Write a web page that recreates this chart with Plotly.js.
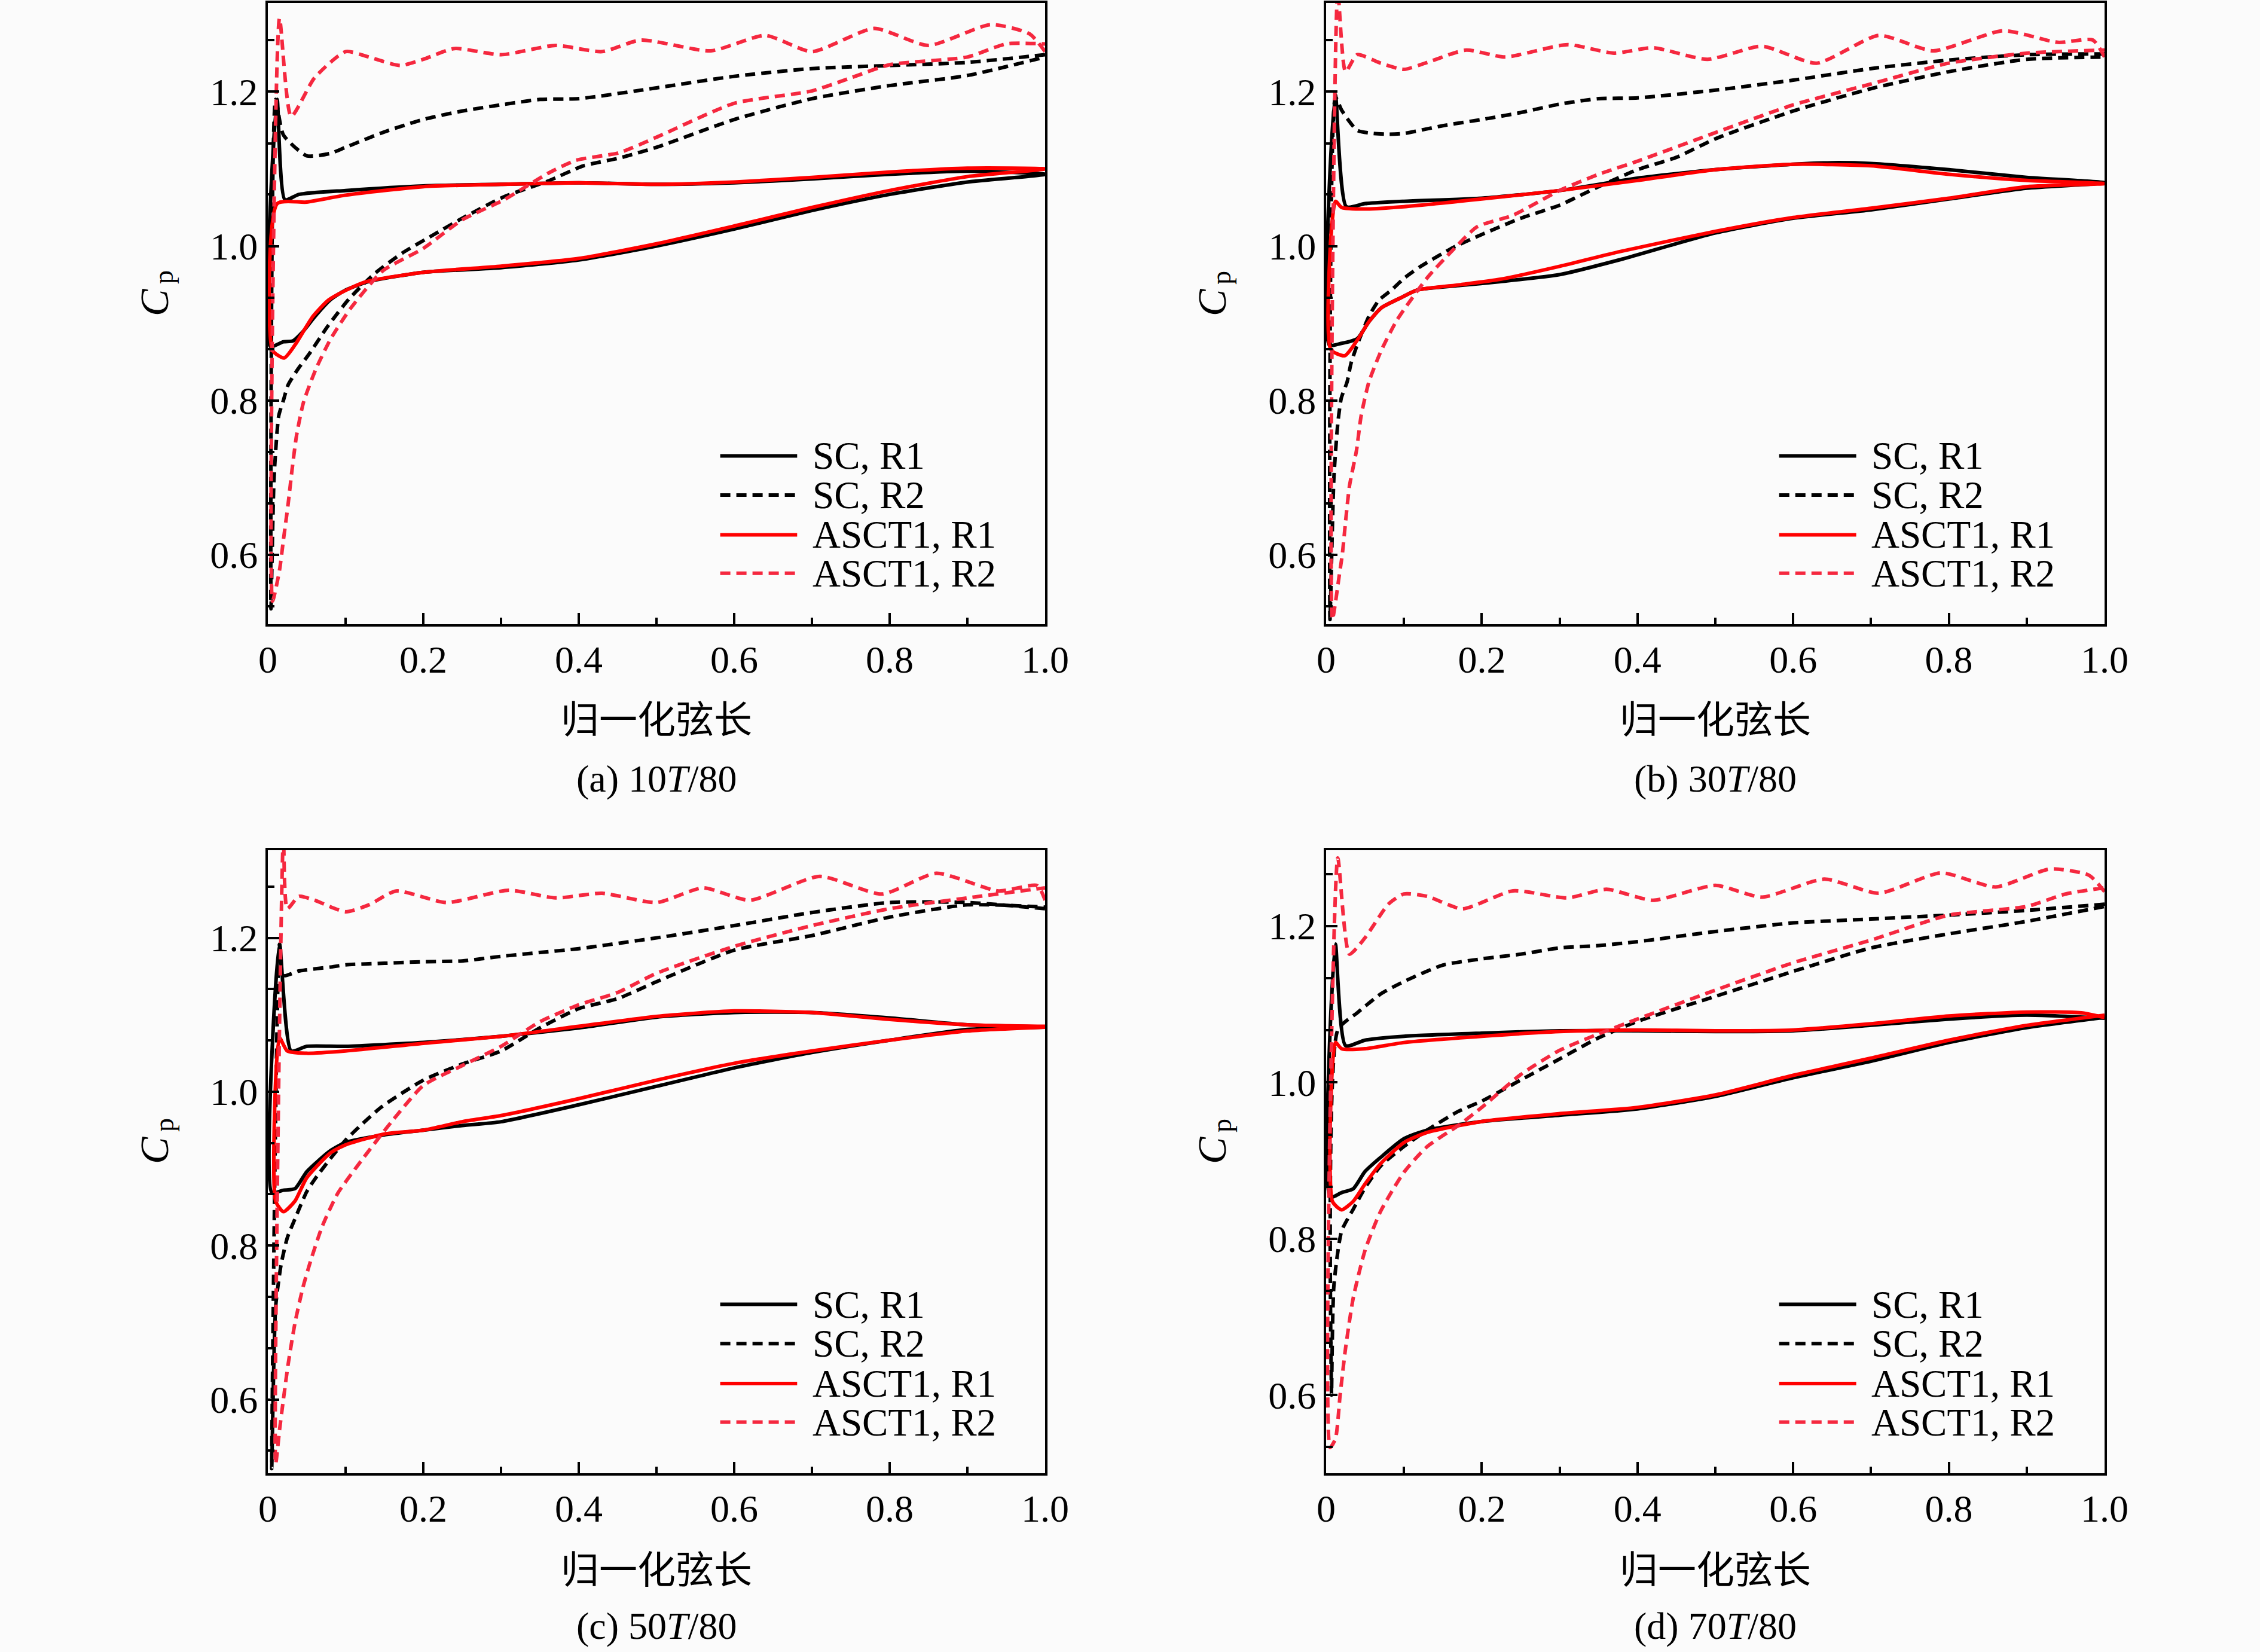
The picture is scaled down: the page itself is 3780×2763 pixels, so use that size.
<!DOCTYPE html>
<html>
<head>
<meta charset="utf-8">
<script src="https://cdn.plot.ly/plotly-3.0.1.min.js"></script>
<style>
  html, body { margin: 0; padding: 0; background: #fbfbfb; }
  #chart { width: 3780px; height: 2763px; }
</style>
</head>
<body>
<div id="chart"></div>
<script>
// ---------- data: [chord, Cp], upper branch and lower branch, LE -> TE ----------
const seriesNames = ["SC, R1", "SC, R2", "ASCT1, R1", "ASCT1, R2"];
const captions = ["(a) 10<i>T</i>/80", "(b) 30<i>T</i>/80", "(c) 50<i>T</i>/80", "(d) 70<i>T</i>/80"];
const xTickVals = [0, 0.2, 0.4, 0.6, 0.8, 1.0];
const xTickText = ["0", "0.2", "0.4", "0.6", "0.8", "1.0"];
const xMinorVals = [0.1, 0.3, 0.5, 0.7, 0.9];
const yTickVals = [0.6, 0.8, 1.0, 1.2];
const yMinorVals = [0.5333, 0.6667, 0.7333, 0.8667, 0.9333, 1.0667, 1.1333, 1.2667];
const yRanges = [[0.51, 1.315], [0.51, 1.315], [0.504, 1.314], [0.50, 1.297]];

// (a) 10T/80
const a_SC_R1_up = [[0.012,1.19],[0.022,1.06],[0.04,1.067],[0.1,1.072],[0.2,1.078],[0.3,1.08],[0.4,1.082],[0.5,1.08],[0.6,1.082],[0.7,1.087],[0.8,1.093],[0.9,1.097],[1.0,1.093]];
const a_SC_R1_lo = [[0.003,0.87],[0.02,0.876],[0.032,0.877],[0.045,0.889],[0.06,0.908],[0.08,0.93],[0.1,0.943],[0.13,0.954],[0.2,0.966],[0.3,0.972],[0.4,0.982],[0.5,1.0],[0.6,1.022],[0.7,1.046],[0.8,1.067],[0.9,1.083],[1.0,1.093]];
const a_SC_R2_up = [[0.01,1.19],[0.02,1.144],[0.05,1.117],[0.08,1.12],[0.1,1.128],[0.15,1.148],[0.2,1.164],[0.25,1.175],[0.3,1.183],[0.35,1.19],[0.4,1.191],[0.5,1.205],[0.6,1.22],[0.7,1.23],[0.8,1.234],[0.9,1.238],[1.0,1.248]];
const a_SC_R2_lo = [[0.004,0.53],[0.008,0.7],[0.014,0.78],[0.02,0.8],[0.026,0.82],[0.039,0.841],[0.053,0.86],[0.077,0.896],[0.104,0.931],[0.137,0.964],[0.173,0.991],[0.212,1.014],[0.25,1.036],[0.304,1.064],[0.36,1.084],[0.406,1.104],[0.452,1.114],[0.5,1.128],[0.6,1.164],[0.7,1.191],[0.8,1.208],[0.9,1.221],[1.0,1.245]];
const a_AS_R1_up = [[0.012,1.055],[0.05,1.057],[0.1,1.066],[0.2,1.077],[0.3,1.08],[0.4,1.082],[0.5,1.08],[0.6,1.083],[0.7,1.089],[0.8,1.096],[0.9,1.101],[1.0,1.1]];
const a_AS_R1_lo = [[0.006,0.865],[0.021,0.855],[0.035,0.872],[0.058,0.909],[0.078,0.93],[0.101,0.943],[0.127,0.954],[0.2,0.966],[0.3,0.974],[0.4,0.984],[0.5,1.003],[0.6,1.026],[0.7,1.05],[0.8,1.072],[0.9,1.09],[1.0,1.1]];
const a_AS_R2_up = [[0.015,1.295],[0.03,1.168],[0.06,1.218],[0.1,1.252],[0.13,1.245],[0.17,1.234],[0.2,1.242],[0.24,1.256],[0.3,1.248],[0.37,1.26],[0.43,1.252],[0.48,1.267],[0.57,1.253],[0.64,1.273],[0.7,1.252],[0.78,1.282],[0.85,1.26],[0.93,1.287],[0.98,1.275],[1.0,1.252]];
const a_AS_R2_lo = [[0.006,0.54],[0.015,0.58],[0.02,0.619],[0.026,0.665],[0.031,0.709],[0.037,0.755],[0.046,0.798],[0.062,0.841],[0.081,0.88],[0.107,0.92],[0.148,0.968],[0.2,0.997],[0.25,1.034],[0.304,1.06],[0.36,1.094],[0.396,1.111],[0.452,1.121],[0.5,1.141],[0.6,1.185],[0.7,1.201],[0.75,1.218],[0.8,1.235],[0.9,1.245],[0.95,1.262],[1.0,1.262]];

// (b) 30T/80
const b_SC_R1_up = [[0.012,1.196],[0.026,1.051],[0.05,1.055],[0.1,1.058],[0.2,1.062],[0.3,1.072],[0.4,1.088],[0.5,1.099],[0.6,1.106],[0.65,1.108],[0.7,1.107],[0.8,1.099],[0.9,1.089],[1.0,1.082]];
const b_SC_R1_lo = [[0.004,0.872],[0.02,0.874],[0.04,0.88],[0.055,0.902],[0.071,0.92],[0.096,0.933],[0.117,0.943],[0.173,0.949],[0.224,0.954],[0.3,0.963],[0.38,0.983],[0.5,1.017],[0.6,1.036],[0.7,1.047],[0.8,1.061],[0.9,1.075],[1.0,1.082]];
const b_SC_R2_up = [[0.012,1.193],[0.02,1.176],[0.04,1.15],[0.06,1.146],[0.08,1.145],[0.1,1.146],[0.15,1.156],[0.2,1.164],[0.25,1.173],[0.3,1.184],[0.35,1.191],[0.4,1.192],[0.5,1.202],[0.6,1.215],[0.7,1.23],[0.8,1.241],[0.9,1.248],[1.0,1.249]];
const b_SC_R2_lo = [[0.005,0.516],[0.01,0.7],[0.015,0.77],[0.0195,0.803],[0.027,0.824],[0.032,0.848],[0.04,0.872],[0.055,0.909],[0.068,0.93],[0.084,0.943],[0.101,0.959],[0.122,0.974],[0.163,0.998],[0.2,1.015],[0.25,1.036],[0.3,1.053],[0.35,1.077],[0.4,1.099],[0.45,1.115],[0.5,1.139],[0.6,1.175],[0.7,1.204],[0.8,1.226],[0.9,1.242],[1.0,1.245]];
const b_AS_R1_up = [[0.012,1.058],[0.02,1.05],[0.05,1.048],[0.1,1.051],[0.2,1.061],[0.3,1.072],[0.4,1.085],[0.5,1.099],[0.6,1.106],[0.7,1.104],[0.8,1.093],[0.9,1.085],[1.0,1.081]];
const b_AS_R1_lo = [[0.006,0.866],[0.024,0.858],[0.04,0.878],[0.055,0.902],[0.071,0.92],[0.096,0.933],[0.117,0.943],[0.173,0.95],[0.224,0.957],[0.301,0.974],[0.378,0.993],[0.5,1.019],[0.6,1.037],[0.7,1.049],[0.8,1.062],[0.9,1.077],[1.0,1.081]];
const b_AS_R2_up = [[0.015,1.33],[0.025,1.226],[0.04,1.248],[0.07,1.237],[0.1,1.229],[0.13,1.238],[0.18,1.254],[0.23,1.245],[0.31,1.261],[0.37,1.25],[0.42,1.257],[0.49,1.242],[0.56,1.259],[0.63,1.237],[0.71,1.273],[0.78,1.253],[0.87,1.279],[0.94,1.264],[0.985,1.267],[1.0,1.245]];
const b_AS_R2_lo = [[0.008,0.516],[0.017,0.574],[0.021,0.602],[0.025,0.643],[0.03,0.689],[0.039,0.735],[0.045,0.78],[0.055,0.824],[0.071,0.865],[0.091,0.904],[0.13,0.959],[0.163,0.995],[0.194,1.025],[0.24,1.04],[0.3,1.072],[0.35,1.093],[0.4,1.11],[0.5,1.147],[0.6,1.183],[0.7,1.21],[0.8,1.237],[0.9,1.25],[1.0,1.254]];

// (c) 50T/80
const c_SC_R1_up = [[0.015,1.192],[0.03,1.053],[0.05,1.059],[0.1,1.059],[0.2,1.064],[0.3,1.072],[0.4,1.083],[0.5,1.097],[0.6,1.103],[0.7,1.103],[0.8,1.096],[0.9,1.087],[1.0,1.084]];
const c_SC_R1_lo = [[0.005,0.869],[0.02,0.872],[0.035,0.874],[0.05,0.896],[0.08,0.923],[0.1,0.934],[0.15,0.944],[0.2,0.95],[0.25,0.956],[0.3,0.961],[0.4,0.983],[0.5,1.007],[0.6,1.031],[0.7,1.051],[0.8,1.067],[0.9,1.081],[1.0,1.084]];
const c_SC_R2_up = [[0.015,1.192],[0.02,1.151],[0.04,1.157],[0.08,1.162],[0.1,1.165],[0.15,1.167],[0.2,1.169],[0.25,1.17],[0.3,1.176],[0.35,1.181],[0.4,1.186],[0.5,1.2],[0.6,1.216],[0.7,1.233],[0.8,1.246],[0.9,1.246],[1.0,1.238]];
const c_SC_R2_lo = [[0.005,0.51],[0.01,0.72],[0.017,0.775],[0.025,0.81],[0.035,0.835],[0.05,0.87],[0.063,0.89],[0.1,0.937],[0.146,0.98],[0.2,1.015],[0.25,1.036],[0.3,1.053],[0.35,1.083],[0.4,1.108],[0.45,1.121],[0.5,1.143],[0.6,1.184],[0.7,1.203],[0.8,1.227],[0.9,1.243],[1.0,1.24]];
const c_AS_R1_up = [[0.015,1.07],[0.025,1.053],[0.05,1.05],[0.1,1.053],[0.2,1.063],[0.3,1.072],[0.4,1.085],[0.5,1.098],[0.6,1.105],[0.7,1.103],[0.8,1.094],[0.9,1.087],[1.0,1.085]];
const c_AS_R1_lo = [[0.01,0.858],[0.02,0.844],[0.035,0.858],[0.05,0.888],[0.08,0.92],[0.1,0.931],[0.15,0.945],[0.2,0.95],[0.25,0.961],[0.3,0.969],[0.4,0.991],[0.5,1.015],[0.6,1.037],[0.7,1.053],[0.8,1.067],[0.9,1.079],[1.0,1.084]];
const c_AS_R2_up = [[0.02,1.33],[0.025,1.238],[0.04,1.254],[0.06,1.249],[0.1,1.234],[0.13,1.243],[0.165,1.261],[0.23,1.246],[0.31,1.262],[0.37,1.252],[0.43,1.258],[0.5,1.246],[0.56,1.265],[0.62,1.249],[0.71,1.28],[0.79,1.257],[0.86,1.284],[0.94,1.261],[0.99,1.268],[1.0,1.249]];
const c_AS_R2_lo = [[0.01,0.516],[0.015,0.56],[0.02,0.6],[0.026,0.645],[0.035,0.7],[0.045,0.745],[0.055,0.78],[0.07,0.825],[0.09,0.868],[0.12,0.91],[0.16,0.962],[0.2,1.008],[0.25,1.034],[0.3,1.059],[0.35,1.091],[0.4,1.113],[0.45,1.129],[0.5,1.154],[0.6,1.189],[0.7,1.216],[0.8,1.238],[0.9,1.252],[1.0,1.265]];

// (d) 70T/80
const d_SC_R1_up = [[0.012,1.177],[0.025,1.047],[0.05,1.054],[0.1,1.059],[0.2,1.063],[0.3,1.066],[0.4,1.066],[0.5,1.065],[0.6,1.066],[0.7,1.073],[0.8,1.081],[0.9,1.086],[1.0,1.082]];
const d_SC_R1_lo = [[0.005,0.853],[0.02,0.859],[0.035,0.864],[0.05,0.886],[0.07,0.904],[0.1,0.928],[0.13,0.939],[0.2,0.95],[0.3,0.958],[0.4,0.966],[0.5,0.982],[0.6,1.006],[0.7,1.027],[0.8,1.051],[0.9,1.07],[1.0,1.083]];
const d_SC_R2_up = [[0.015,1.067],[0.04,1.089],[0.07,1.113],[0.1,1.129],[0.15,1.15],[0.2,1.158],[0.25,1.164],[0.3,1.172],[0.35,1.175],[0.4,1.18],[0.5,1.193],[0.6,1.204],[0.7,1.209],[0.8,1.214],[0.9,1.22],[1.0,1.228]];
const d_SC_R2_lo = [[0.007,0.6],[0.01,0.74],[0.02,0.81],[0.035,0.838],[0.05,0.865],[0.07,0.893],[0.1,0.918],[0.13,0.939],[0.17,0.963],[0.2,0.976],[0.25,1.003],[0.3,1.03],[0.35,1.057],[0.4,1.078],[0.5,1.11],[0.6,1.142],[0.7,1.172],[0.8,1.19],[0.9,1.206],[1.0,1.225]];
const d_AS_R1_up = [[0.012,1.051],[0.02,1.043],[0.05,1.043],[0.1,1.051],[0.2,1.059],[0.3,1.065],[0.4,1.067],[0.5,1.066],[0.6,1.067],[0.7,1.075],[0.8,1.085],[0.9,1.09],[0.97,1.089],[1.0,1.083]];
const d_AS_R1_lo = [[0.008,0.848],[0.02,0.837],[0.035,0.848],[0.05,0.87],[0.07,0.896],[0.1,0.923],[0.13,0.936],[0.2,0.95],[0.3,0.96],[0.4,0.968],[0.5,0.984],[0.6,1.009],[0.7,1.031],[0.8,1.054],[0.9,1.073],[1.0,1.086]];
const d_AS_R2_up = [[0.015,1.287],[0.03,1.164],[0.05,1.185],[0.08,1.228],[0.1,1.241],[0.13,1.238],[0.175,1.222],[0.24,1.245],[0.31,1.236],[0.36,1.247],[0.42,1.233],[0.5,1.252],[0.56,1.237],[0.64,1.26],[0.71,1.242],[0.79,1.268],[0.86,1.25],[0.93,1.273],[0.98,1.265],[1.0,1.244]];
const d_AS_R2_lo = [[0.005,0.533],[0.012,0.544],[0.018,0.6],[0.025,0.66],[0.035,0.725],[0.05,0.785],[0.07,0.835],[0.1,0.885],[0.13,0.918],[0.17,0.945],[0.2,0.968],[0.25,1.01],[0.3,1.041],[0.35,1.062],[0.4,1.081],[0.5,1.118],[0.6,1.153],[0.7,1.182],[0.8,1.214],[0.9,1.225],[0.95,1.241],[1.0,1.249]];

const panelSeries = [
    [[a_SC_R1_up, a_SC_R1_lo], [a_SC_R2_up, a_SC_R2_lo], [a_AS_R1_up, a_AS_R1_lo], [a_AS_R2_up, a_AS_R2_lo]],
    [[b_SC_R1_up, b_SC_R1_lo], [b_SC_R2_up, b_SC_R2_lo], [b_AS_R1_up, b_AS_R1_lo], [b_AS_R2_up, b_AS_R2_lo]],
    [[c_SC_R1_up, c_SC_R1_lo], [c_SC_R2_up, c_SC_R2_lo], [c_AS_R1_up, c_AS_R1_lo], [c_AS_R2_up, c_AS_R2_lo]],
    [[d_SC_R1_up, d_SC_R1_lo], [d_SC_R2_up, d_SC_R2_lo], [d_AS_R1_up, d_AS_R1_lo], [d_AS_R2_up, d_AS_R2_lo]],
];

// ---------- styling ----------
const W = 3780, H = 2763;
const SERIF = '"Liberation Serif", "Times New Roman", serif';
const CJK = '"Noto Sans CJK SC", sans-serif';
const FS = 64;
const LW = 6;
const DASH = "17px,10px";
const STYLES = [
    { color: "#000000", dash: "solid" },
    { color: "#000000", dash: DASH },
    { color: "#ff0000", dash: "solid" },
    { color: "#f5283f", dash: DASH },
];

// plot-area pixel boxes measured on the reference
const colX = [[448, 1748], [2218, 3520]];
const rowY = [[5, 1044], [1422, 2464]];
const titleY = [1198, 2620], captionY = [1302, 2719], cpY = [494, 1912], cpX = [258, 2027];

const px = (v) => v / W;
const py = (v) => 1 - v / H;

// one closed loop: trailing edge -> upper surface -> leading edge -> lower surface -> trailing edge
function loop(upper, lower) {
    const pts = upper.slice().reverse().concat(lower);
    return { x: pts.map((p) => p[0]), y: pts.map((p) => p[1]) };
}

const traces = [];
const layout = {
    width: W, height: H,
    margin: { t: 0, r: 0, b: 0, l: 0 },
    paper_bgcolor: "#fbfbfb", plot_bgcolor: "#fbfbfb",
    showlegend: false,
    annotations: [], shapes: [],
};

panelSeries.forEach((series, i) => {
    const col = i % 2, row = Math.floor(i / 2);
    const suf = i === 0 ? "" : String(i + 1);
    const xa = "x" + suf, ya = "y" + suf;

    series.forEach(([up, lo], k) => {
        const l = loop(up, lo);
        traces.push({
            x: l.x, y: l.y, xaxis: xa, yaxis: ya, type: "scatter", mode: "lines",
            name: seriesNames[k],
            line: { color: STYLES[k].color, dash: STYLES[k].dash, width: LW, shape: "spline", smoothing: 0.6 },
            hoverinfo: "skip",
        });
    });

    const common = {
        showline: true, linewidth: 4, linecolor: "#000", mirror: true,
        showgrid: false, zeroline: false,
        ticks: "inside", ticklen: 19, tickwidth: 4, tickcolor: "#000",
        tickfont: { family: SERIF, size: FS, color: "#000" },
    };
    layout["xaxis" + suf] = Object.assign({}, common, {
        domain: [px(colX[col][0]), px(colX[col][1])], anchor: ya, range: [0, 1],
        tickmode: "array", tickvals: xTickVals, ticktext: xTickText,
        minor: { tickmode: "array", tickvals: xMinorVals, ticks: "inside", ticklen: 11, tickwidth: 4, tickcolor: "#000" },
    });
    layout["yaxis" + suf] = Object.assign({}, common, {
        domain: [py(rowY[row][1]), py(rowY[row][0])], anchor: xa, range: yRanges[i],
        tickmode: "array", tickvals: yTickVals, tickformat: ".1f",
        minor: { tickmode: "array", tickvals: yMinorVals, ticks: "inside", ticklen: 11, tickwidth: 4, tickcolor: "#000" },
    });

    const cx = px((colX[col][0] + colX[col][1]) / 2);
    layout.annotations.push(
        { xref: "paper", yref: "paper", x: cx, y: py(titleY[row]), text: "归一化弦长", showarrow: false,
          xanchor: "center", yanchor: "middle", font: { family: CJK, size: FS, color: "#000" } },
        { xref: "paper", yref: "paper", x: cx, y: py(captionY[row]), text: captions[i], showarrow: false,
          xanchor: "center", yanchor: "middle", font: { family: SERIF, size: FS, color: "#000" } },
        // y-axis label C_p, rotated; the subscript is its own text so no zero-width baseline reset is needed
        { xref: "paper", yref: "paper", x: px(cpX[col]), y: py(cpY[row] + 12), text: "<i>C</i>", showarrow: false,
          textangle: -90, xanchor: "center", yanchor: "middle", font: { family: SERIF, size: FS + 4, color: "#000" } },
        { xref: "paper", yref: "paper", x: px(cpX[col] + 16), y: py(cpY[row] - 30), text: "p", showarrow: false,
          textangle: -90, xanchor: "center", yanchor: "middle", font: { family: SERIF, size: 46, color: "#000" } }
    );

    // legend drawn by hand so the sample lines get the long Origin-style length
    const legRows = [0.271, 0.208, 0.144, 0.082];
    seriesNames.forEach((name, k) => {
        layout.shapes.push({
            type: "line", xref: xa + " domain", yref: ya + " domain",
            x0: 0.582, x1: 0.681, y0: legRows[k], y1: legRows[k],
            line: { color: STYLES[k].color, dash: STYLES[k].dash, width: LW },
        });
        layout.annotations.push({
            xref: xa + " domain", yref: ya + " domain", x: 0.699, y: legRows[k], text: name,
            showarrow: false, xanchor: "left", yanchor: "middle",
            font: { family: SERIF, size: FS + 1, color: "#000" },
        });
    });
});

Plotly.newPlot("chart", traces, layout, { displayModeBar: false, staticPlot: true });
</script>
</body>
</html>
